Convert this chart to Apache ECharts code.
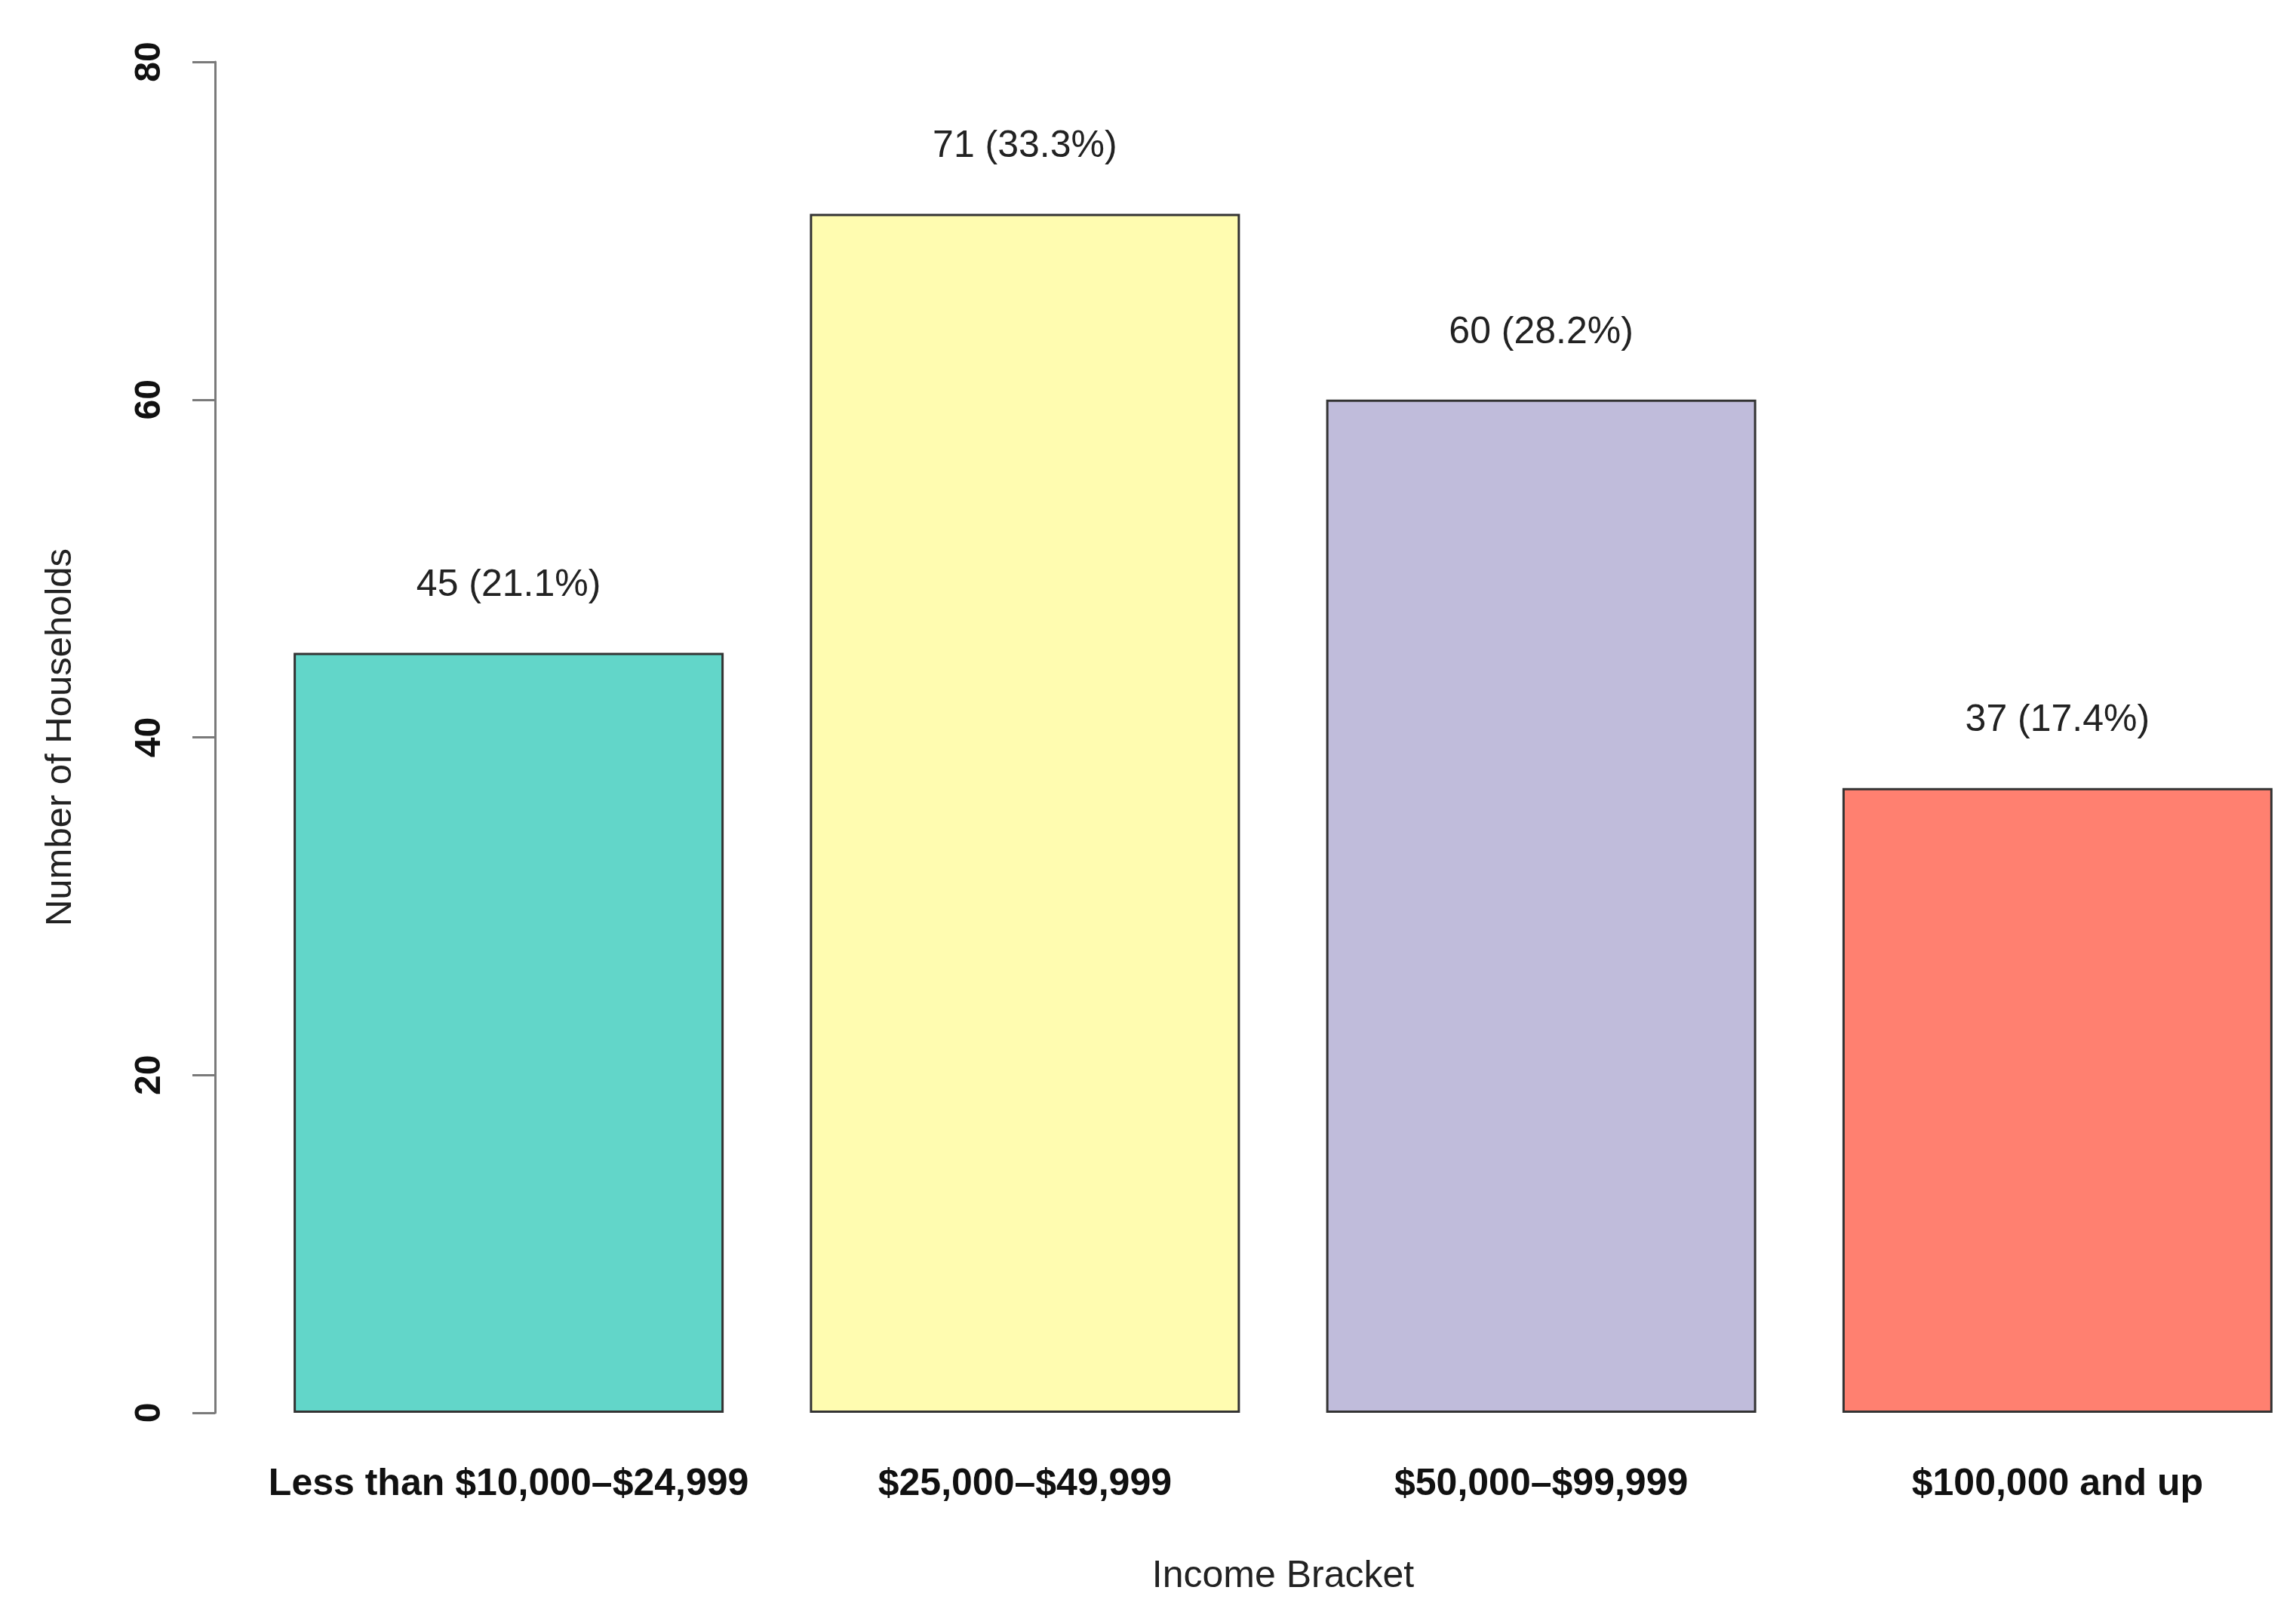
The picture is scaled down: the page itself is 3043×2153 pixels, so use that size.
<!DOCTYPE html>
<html>
<head>
<meta charset="utf-8">
<script src="https://cdn.jsdelivr.net/npm/echarts@6/dist/echarts.min.js"></script>
<style>
html,body{margin:0;padding:0;background:#fff;}
#c{width:3043px;height:2153px;}
</style>
</head>
<body>
<div id="c"></div>
<script>
var categories = ["Less than $10,000\u2013$24,999", "$25,000\u2013$49,999", "$50,000\u2013$99,999", "$100,000 and up"];
var households = [45, 71, 60, 37];
var percentLabels = ["21.1%", "33.3%", "28.2%", "17.4%"];
var barColors = ["#62D6C9", "#FFFCB0", "#C0BCDB", "#FF8070"];
var yTicks = [0, 20, 40, 60, 80];

var chart = echarts.init(document.getElementById('c'), null, {renderer: 'canvas'});
var font = "'Liberation Sans', Arial, Helvetica, sans-serif";
chart.setOption({
  backgroundColor: '#ffffff',
  animation: false,
  grid: {left: 332, right: -26, top: 82, bottom: 280, containLabel: false, outerBoundsMode: 'none'},
  xAxis: {
    type: 'category',
    data: categories,
    name: 'Income Bracket',
    nameLocation: 'middle',
    nameGap: 192,
    nameTextStyle: {fontFamily: font, fontSize: 50, color: '#222'},
    axisLine: {show: false},
    axisTick: {show: false},
    axisLabel: {fontFamily: font, fontSize: 50, fontWeight: 'bold', color: '#111', margin: 70, interval: 0}
  },
  yAxis: {
    type: 'value',
    min: yTicks[0],
    max: yTicks[yTicks.length - 1],
    interval: 20,
    offset: 47,
    name: 'Number of Households',
    nameLocation: 'middle',
    nameGap: 180,
    nameTextStyle: {fontFamily: font, fontSize: 49, color: '#222'},
    axisLine: {show: true, lineStyle: {color: '#7a7a7a', width: 3}},
    axisTick: {show: true, length: 30, lineStyle: {color: '#7a7a7a', width: 3}},
    splitLine: {show: false},
    axisLabel: {rotate: 90, fontFamily: font, fontSize: 48, fontWeight: 'bold', color: '#111', margin: 62}
  },
  series: [{
    type: 'bar',
    barWidth: '83.3%',
    data: households.map(function (v, i) {
      return {value: v, itemStyle: {color: barColors[i]}};
    }),
    itemStyle: {borderColor: '#333', borderWidth: 3},
    label: {
      show: true,
      position: 'top',
      distance: 64,
      fontFamily: font,
      fontSize: 50,
      color: '#222',
      formatter: function (p) { return p.value + ' (' + percentLabels[p.dataIndex] + ')'; }
    }
  }]
});
</script>
</body>
</html>
